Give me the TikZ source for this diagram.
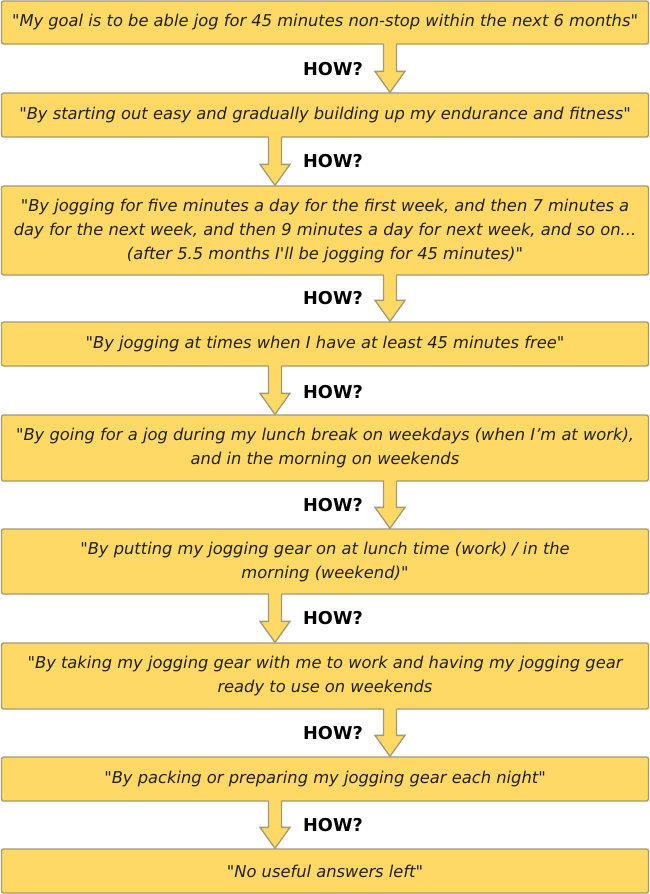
\documentclass[tikz,border=0pt]{standalone}
\usepackage{fontspec}
\setmainfont{DejaVu Sans}[Ligatures=TeXOff]
\usetikzlibrary{calc}
\definecolor{boxfill}{HTML}{FED966}
\definecolor{boxline}{HTML}{A39A73}
\definecolor{txt}{HTML}{202020}
\newcommand\howarrow[3]{%
  \coordinate (tp) at (#3 |- #1.south);
  \coordinate (tip) at (#3 |- #2.north);
  \fill[boxfill] ([xshift=-6.5pt,yshift=1.5pt]tp) -- ([xshift=-6.5pt,yshift=21pt]tip) -- ([xshift=-15pt,yshift=21pt]tip) -- (tip) -- ([xshift=15pt,yshift=21pt]tip) -- ([xshift=6.5pt,yshift=21pt]tip) -- ([xshift=6.5pt,yshift=1.5pt]tp) -- cycle;
  \draw[arrowline] ([xshift=-6.5pt,yshift=0.8pt]tp) -- ([xshift=-6.5pt,yshift=21pt]tip) -- ([xshift=-15pt,yshift=21pt]tip) -- (tip) -- ([xshift=15pt,yshift=21pt]tip) -- ([xshift=6.5pt,yshift=21pt]tip) -- ([xshift=6.5pt,yshift=0.8pt]tp);
}
\begin{document}
\begin{tikzpicture}[x=1pt,y=-1pt,
  stepbox/.style={draw=boxline, fill=boxfill, line width=1.3pt, rounded corners=2pt,
    minimum width=647pt, inner sep=0pt, align=center, text=txt,
    font=\fontsize{16.3}{24}\selectfont\itshape},
  how/.style={font=\fontsize{17.7}{20}\selectfont\bfseries, text=black, inner sep=0pt},
  arrowline/.style={draw=boxline, line width=1.3pt, line join=miter}]
\useasboundingbox (0,0) rectangle (650,894);
\fill[white] (0,0) rectangle (650,894);
\coordinate (R) at (390,0);
\coordinate (L) at (275,0);
\node[stepbox, minimum height=43pt] (b1) at (325,22.5) {"My goal is to be able jog for 45 minutes non-stop within the next 6 months"};
\node[stepbox, minimum height=44pt] (b2) at (325,115) {"By starting out easy and gradually building up my endurance and fitness"};
\node[stepbox, minimum height=89pt] (b3) at (325,230.5) {"By jogging for five minutes a day for the first week, and then 7 minutes a\\day for the next week, and then 9 minutes a day for next week, and so on...\\(after 5.5 months I'll be jogging for 45 minutes)"};
\node[stepbox, minimum height=44pt] (b4) at (325,344) {"By jogging at times when I have at least 45 minutes free"};
\node[stepbox, minimum height=66pt] (b5) at (325,448) {"By going for a jog during my lunch break on weekdays (when I’m at work),\\and in the morning on weekends};
\node[stepbox, minimum height=65pt] (b6) at (325,561.5) {"By putting my jogging gear on at lunch time (work) / in the\\morning (weekend)"};
\node[stepbox, minimum height=66pt] (b7) at (325,676) {"By taking my jogging gear with me to work and having my jogging gear\\ready to use on weekends};
\node[stepbox, minimum height=44pt] (b8) at (325,779) {"By packing or preparing my jogging gear each night"};
\node[stepbox, minimum height=44pt] (b9) at (325,871) {"No useful answers left"};
\howarrow{b1}{b2}{R}
\howarrow{b2}{b3}{L}
\howarrow{b3}{b4}{R}
\howarrow{b4}{b5}{L}
\howarrow{b5}{b6}{R}
\howarrow{b6}{b7}{L}
\howarrow{b7}{b8}{R}
\howarrow{b8}{b9}{L}
\node[how] (h1) at (333,69) {HOW?};
\node[how] (h2) at (333,161) {HOW?};
\node[how] (h3) at (333,298.5) {HOW?};
\node[how] (h4) at (333,392) {HOW?};
\node[how] (h5) at (333,505) {HOW?};
\node[how] (h6) at (333,618) {HOW?};
\node[how] (h7) at (333,733) {HOW?};
\node[how] (h8) at (333,825) {HOW?};
\end{tikzpicture}
\end{document}
